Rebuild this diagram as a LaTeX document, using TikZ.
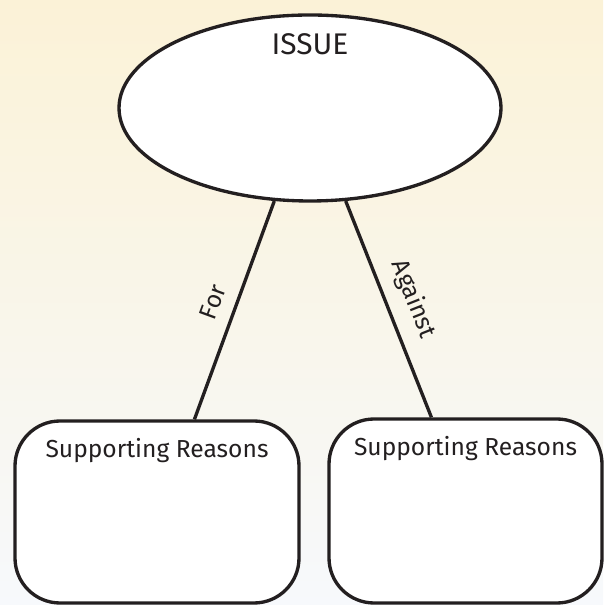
\documentclass[tikz,border=0pt]{standalone}
\usepackage{fontspec}
\setmainfont{Fira Sans}
\usetikzlibrary{positioning,shapes.geometric}
\definecolor{inkline}{RGB}{35,31,32}
\definecolor{paperTop}{RGB}{251,242,215}
\definecolor{paperMid}{RGB}{254,252,246}
\definecolor{paperBot}{RGB}{247,249,252}
\tikzset{issue node/.style={ellipse,fill=white,draw=inkline,line width=1.9pt,minimum width=7.64cm,minimum height=3.72cm,inner sep=0pt},
	reason box/.style={rectangle,rounded corners=0.9cm,fill=white,draw=inkline,line width=1.9pt,inner sep=0pt},
	top text/.style={anchor=center,yshift=-0.63cm,text=inkline,font=\fontsize{14}{16}\selectfont},}

\begin{document}
\begin{tikzpicture}
			\useasboundingbox (0,0) rectangle (12.06,12.1);
			\shade[top color=paperTop, middle color=paperMid, bottom color=paperBot] (0,0) rectangle (12.06,12.1);

			\node[issue node, label={[anchor=center, yshift=-0.62cm, text=inkline, font=\fontsize{17}{19}\selectfont]90:ISSUE}] (i) at (6.2, 9.94) {};

			\node[reason box, minimum width=5.68cm, minimum height=3.64cm, label={[top text]90:Supporting Reasons}] (b1) at (3.14, 1.86) {};
			\node[reason box, minimum width=5.46cm, minimum height=3.68cm, label={[top text]90:Supporting Reasons}] (b2) at (9.31, 1.88) {};

			\path[draw, draw=inkline, line width=1.9pt, every node/.style={sloped, above=0.14cm, text=inkline, font=\fontsize{14}{16}\selectfont}]
				(b1.68) edge node {For} (i.249)
				(i.291) edge node {Against} (b2.110);
		\end{tikzpicture}
\end{document}
